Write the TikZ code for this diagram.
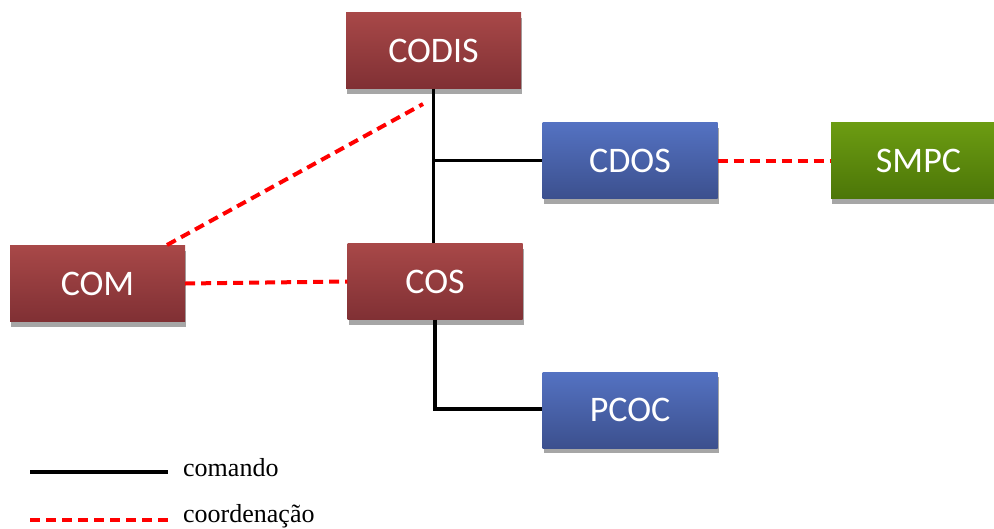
\documentclass[tikz,border=0pt]{standalone}
\usepackage{fontspec}
\setmainfont{Liberation Serif}
\newfontfamily\boxfont{Carlito}
\usetikzlibrary{shadows}
\definecolor{redtop}{RGB}{168,72,72}
\definecolor{redbot}{RGB}{128,48,52}
\definecolor{bluetop}{RGB}{84,114,194}
\definecolor{bluebot}{RGB}{60,80,142}
\definecolor{greentop}{RGB}{108,156,18}
\definecolor{greenbot}{RGB}{76,118,8}
\definecolor{shadowgray}{RGB}{166,166,166}
\tikzset{
  unitbox/.style={rectangle, minimum width=175pt, minimum height=76pt, inner sep=0pt,
    text=white, font=\boxfont\fontsize{36}{36}\selectfont,
    general shadow={fill=shadowgray, shadow xshift=1pt, shadow yshift=-5pt}},
  redbox/.style={unitbox, top color=redtop, bottom color=redbot},
  bluebox/.style={unitbox, top color=bluetop, bottom color=bluebot},
  greenbox/.style={unitbox, top color=greentop, bottom color=greenbot},
  cmd/.style={draw=black, line width=3.6pt},
  coord/.style={draw=red, line width=4pt, dash pattern=on 10pt off 6pt},
  legendtext/.style={anchor=west, inner sep=0pt, font=\fontsize{26}{26}\selectfont}
}
\begin{document}
\begin{tikzpicture}[x=1pt, y=-1pt]
\useasboundingbox (0,0) rectangle (994,528);
\node[redbox] (codis) at (433.5,50.5) {CODIS};
\node[redbox] (com) at (97.5,283.5) {COM};
\node[redbox] (cos) at (435,281.5) {COS};
\node[bluebox] (cdos) at (630,160.5) {CDOS};
\node[bluebox] (pcoc) at (630,410) {PCOC};
\node[greenbox] (smpc) at (918.5,160.5) {SMPC};

\coordinate (tee) at (433.5,160.5);
\coordinate (corner) at (435,409);
\coordinate (comtop) at (167,245);
\coordinate (dashend) at (423,104);

\draw[cmd] (codis.south) -- (codis.south |- cos.north);
\draw[cmd] (tee) -- (cdos.west);
\draw[cmd] (cos.south) -- (corner) -- (pcoc.west |- corner);

\draw[coord] (comtop) -- (dashend);
\draw[coord] (com.east) -- (cos.west);
\draw[coord] (cdos.east) -- (smpc.west);

\coordinate (l1a) at (30,472);
\coordinate (l1b) at (168,472);
\coordinate (l2a) at (30,520);
\coordinate (l2b) at (168,520);
\draw[cmd] (l1a) -- (l1b);
\draw[coord] (l2a) -- (l2b);
\node[legendtext] (lcmd) at (183,468) {comando};
\node[legendtext] (lcoord) at (183,516) {coordenação};
\end{tikzpicture}
\end{document}
